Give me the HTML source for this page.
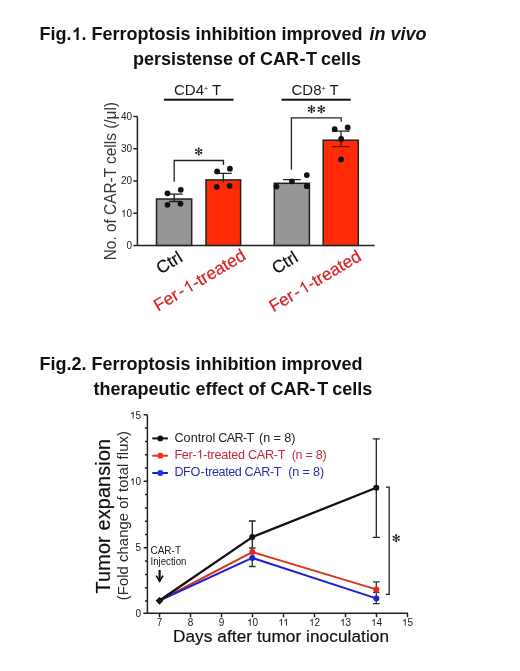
<!DOCTYPE html>
<html><head><meta charset="utf-8">
<style>
html,body{margin:0;padding:0;background:#fff;}
body{width:520px;height:671px;overflow:hidden;font-family:"Liberation Sans",sans-serif;}
svg{display:block;filter:blur(0.2px);}
text{font-family:"Liberation Sans",sans-serif;}
.h1{fill-opacity:0;stroke-opacity:0;}
.th text,text.th{stroke-width:0.2px;paint-order:stroke;stroke-linejoin:round;}
</style></head>
<body>
<svg width="520" height="671" viewBox="0 0 520 671">
<defs><path id="one_r" d="M763 0 L583 0 L583 -1097.9 Q518 -1038.6 412 -979.2 Q307 -919.9 223 -890.2 L223 -1056.8 Q374 -1124.7 487 -1221.4 Q600 -1318.1 647 -1409 L763 -1409Z"/><path id="one_b" d="M819 0 L567 0 L567 -1016.6 Q429 -892.5 242 -832.9 L242 -1077.2 Q340 -1108 455 -1193.6 Q570 -1279.2 613 -1409 L819 -1409Z"/><g id="ast"><path d="M0 -3.2 V3.2 M-2.77 -1.6 L2.77 1.6 M-2.77 1.6 L2.77 -1.6" stroke="#222" stroke-width="1.0" stroke-linecap="round"/><g fill="#222"><circle cx="0.00" cy="-3.00" r="1.05"/><circle cx="-0.00" cy="3.00" r="1.05"/><circle cx="2.60" cy="-1.50" r="1.05"/><circle cx="-2.60" cy="-1.50" r="1.05"/><circle cx="-2.60" cy="1.50" r="1.05"/><circle cx="2.60" cy="1.50" r="1.05"/></g></g></defs>
<rect x="0" y="0" width="520" height="671" fill="#fff"/>
<!-- Title 1 -->
<g font-weight="bold" font-size="18" fill="#111">
<text x="39.5" y="40">Fig.<tspan class="h1">1</tspan>. Ferroptosis inhibition improved <tspan font-style="italic" dx="2">in vivo</tspan></text>
<text x="133" y="65">persistense of CAR<tspan dx="0.4">-</tspan><tspan dx="0.6">T</tspan><tspan dx="-1"> cells</tspan></text>
</g>
<!-- Chart 1 -->
<g id="c1">
<!-- group labels -->
<g font-size="15" fill="#1a1a1a">
<text x="174" y="95">CD4<tspan font-size="7" dy="-4">+</tspan><tspan dy="4"> T</tspan></text>
<text x="291.5" y="95">CD8<tspan font-size="7" dy="-4">+</tspan><tspan dy="4"> T</tspan></text>
</g>
<rect x="163.8" y="98.7" width="69.7" height="2" fill="#111"/>
<rect x="281.5" y="98.7" width="69.2" height="2" fill="#111"/>
<!-- axes -->
<g stroke="#222" stroke-width="1.5" fill="none">
<path d="M137.4 116.4 V245.4 M133.4 116.4 H137.4 M133.4 148.65 H137.4 M133.4 180.9 H137.4 M133.4 213.15 H137.4 M133.4 245.4 H374.6"/>
</g>
<g font-size="10" fill="#1a1a1a" text-anchor="end">
<text x="132" y="120">40</text>
<text x="132" y="152.2">30</text>
<text x="132" y="184.4">20</text>
<text x="132" y="216.7"><tspan class="h1">1</tspan>0</text>
<text x="132" y="248.5">0</text>
</g>
<text transform="translate(115.7,260.3) rotate(-90)" font-size="16.2" fill="#383838" textLength="158.3" lengthAdjust="spacingAndGlyphs">No. of CAR-T cells (/μl)</text>
<!-- bars -->
<g stroke="#222" stroke-width="1.5">
<rect x="156.5" y="199" width="35.2" height="46.4" fill="#969696"/>
<rect x="206" y="179.9" width="34.6" height="65.5" fill="#ff2a06"/>
<rect x="274.3" y="183.3" width="35.1" height="62.1" fill="#969696"/>
<rect x="323.2" y="140.2" width="35.1" height="105.2" fill="#ff2a06"/>
</g>
<!-- error bars -->
<g stroke="#222" stroke-width="1.3" fill="none">
<path d="M174.2 194.2 V201.5 M165.7 194.2 H182.7 M169 201.5 H180"/>
<path d="M223.3 173.4 V182.5 M214.8 173.4 H231.8"/>
<path d="M291.9 179.6 V183.3 M283 179.6 H300.8"/>
<path d="M341 131.1 V140.2 M332.3 131.1 H349.7"/>
</g>
<path d="M341 140.2 V146.7 M332.3 146.7 H349.7" stroke="#6a1208" stroke-width="1.3" fill="none"/>
<!-- dots -->
<g fill="#111">
<circle cx="167.5" cy="193.3" r="2.9"/><circle cx="180.8" cy="189.8" r="2.9"/><circle cx="167.5" cy="204.8" r="2.9"/><circle cx="180.5" cy="203.7" r="2.9"/>
<circle cx="217.1" cy="171.4" r="2.9"/><circle cx="229.9" cy="168.7" r="2.9"/><circle cx="216.7" cy="186.8" r="2.9"/><circle cx="229.6" cy="185.8" r="2.9"/>
<circle cx="276.5" cy="186.6" r="2.9"/><circle cx="306.8" cy="186.2" r="2.9"/><circle cx="291.9" cy="181.3" r="2.9"/><circle cx="306.8" cy="175.1" r="2.9"/>
<circle cx="334.7" cy="129.2" r="2.9"/><circle cx="347.7" cy="127.5" r="2.9"/><circle cx="341.2" cy="139" r="2.9"/><circle cx="341" cy="159.4" r="2.9"/>
</g>
<!-- brackets -->
<g stroke="#222" stroke-width="1.3" fill="none">
<path d="M174.2 181.8 V160.5 H223.5 V164.9"/>
<path d="M291.4 169.8 V117.8 H341.2 V121.7"/>
</g>
<use href="#ast" x="198.7" y="151.5"/>
<use href="#ast" x="311.5" y="109.3"/>
<use href="#ast" x="321.3" y="109.3"/>
<!-- x labels -->
<g font-size="17.3" class="th">
<text transform="translate(160.8,274.6) rotate(-31.8)" fill="#111" stroke="#111">Ctrl</text>
<text transform="translate(157.9,311.7) rotate(-30.8)" fill="#d41f26" stroke="#d41f26">Fer<tspan dx="1.6">-</tspan><tspan dx="1.2"><tspan class="h1">1</tspan>-treated</tspan></text>
<text transform="translate(276.5,274.6) rotate(-31.8)" fill="#111" stroke="#111">Ctrl</text>
<text transform="translate(273.4,312.6) rotate(-30.8)" fill="#d41f26" stroke="#d41f26">Fer<tspan dx="1.6">-</tspan><tspan dx="1.2"><tspan class="h1">1</tspan>-treated</tspan></text>
</g>
</g>

<!-- Title 2 -->
<g font-weight="bold" font-size="18" fill="#111">
<text x="39.5" y="369.5">Fig.2. Ferroptosis inhibition improved</text>
<text x="93.5" y="394.5">therapeutic effect of CAR-<tspan dx="1.8">T</tspan><tspan dx="-1"> cells</tspan></text>
</g>

<!-- Chart 2 -->
<g id="c2">
<g stroke="#222" stroke-width="1.5" fill="none">
<path d="M147.4 414.8 V613.3 M143.4 613.3 H408"/>
<path d="M143.6 414.8 H147.4 M143.6 481.3 H147.4 M143.6 547.8 H147.4"/>
<path d="M145 428.1 H147.4 M145 441.4 H147.4 M145 454.7 H147.4 M145 468 H147.4 M145 494.6 H147.4 M145 507.9 H147.4 M145 521.2 H147.4 M145 534.5 H147.4 M145 561.1 H147.4 M145 574.4 H147.4 M145 587.7 H147.4 M145 601 H147.4"/>
<path d="M159.5 613.3 v4 M190.5 613.3 v4 M221.5 613.3 v4 M252.5 613.3 v4 M283.5 613.3 v4 M314.5 613.3 v4 M345.5 613.3 v4 M376.5 613.3 v4 M407.5 613.3 v4"/>
</g>
<g font-size="10" fill="#1a1a1a" text-anchor="end">
<text x="141" y="418.5"><tspan class="h1">1</tspan>5</text>
<text x="141" y="485"><tspan class="h1">1</tspan>0</text>
<text x="141" y="551.4">5</text>
<text x="141" y="617.3">0</text>
</g>
<g font-size="10" fill="#1a1a1a" text-anchor="middle">
<text x="159.5" y="625.7">7</text><text x="190.5" y="625.7">8</text><text x="221.5" y="625.7">9</text><text x="252.5" y="625.7"><tspan class="h1">1</tspan>0</text><text x="283.5" y="625.7"><tspan class="h1">1</tspan><tspan class="h1">1</tspan></text><text x="314.5" y="625.7"><tspan class="h1">1</tspan>2</text><text x="345.5" y="625.7"><tspan class="h1">1</tspan>3</text><text x="376.5" y="625.7"><tspan class="h1">1</tspan>4</text><text x="407.5" y="625.7"><tspan class="h1">1</tspan>5</text>
</g>
<text class="th" stroke="#111" x="173" y="642.3" font-size="17.2" fill="#111" textLength="216" lengthAdjust="spacing">Days after tumor inoculation</text>
<text transform="translate(109.7,593.4) rotate(-90)" font-size="19.8" fill="#111" stroke="#111" class="th" textLength="154.5" lengthAdjust="spacing">Tumor expansion</text>
<text transform="translate(128,600.2) rotate(-90)" font-size="14.7" fill="#2a2a2a" textLength="169" lengthAdjust="spacing">(Fold change of total flux)</text>
<!-- legend -->
<g stroke-width="2.0">
<path d="M152.3 438.4 H167.9" stroke="#111"/>
<path d="M152.3 455.7 H167.9" stroke="#d23a20"/>
<path d="M152.3 473 H167.9" stroke="#1a1ad0"/>
</g>
<circle cx="160.3" cy="438.4" r="2.9" fill="#111"/>
<circle cx="160.3" cy="455.7" r="2.9" fill="#ff2a10"/>
<circle cx="160.3" cy="473" r="2.9" fill="#1f30f0"/>
<g font-size="12.6">
<text x="174.4" y="441.8" fill="#222" textLength="41" lengthAdjust="spacing">Control</text>
<text x="218.2" y="441.8" fill="#222" textLength="36" lengthAdjust="spacing">CAR-T</text>
<text x="259" y="441.8" fill="#222" textLength="36.5" lengthAdjust="spacing">(n = 8)</text>
<text x="174.4" y="458.5" fill="#c02c3c" textLength="111" lengthAdjust="spacing">Fer-<tspan class="h1">1</tspan>-treated CAR-T</text>
<text x="291.7" y="458.5" fill="#c02c3c" textLength="35" lengthAdjust="spacing">(n = 8)</text>
<text x="174.4" y="476" fill="#2e2ea8" textLength="107" lengthAdjust="spacing">DFO<tspan dx="0.8">-</tspan><tspan dx="0.7">treated CAR-T</tspan></text>
<text x="288.2" y="476" fill="#2e2ea8" textLength="36" lengthAdjust="spacing">(n = 8)</text>
</g>
<!-- error bars -->
<g stroke="#222" stroke-width="1.3" fill="none">
<path d="M252.3 521 V553 M249 521 H255.6"/>
<path d="M376.3 438.9 V537.4 M372.8 438.9 H379.8 M372.8 537.4 H379.8"/>
</g>
<g stroke="#333" stroke-width="1.3" fill="none">
<path d="M252.3 548 V566.5 M249 548 H255.6 M249 566.5 H255.6"/>
<path d="M376.3 581.8 V603.6 M373 581.8 H379.6 M373 592.4 H379.6 M373 603.6 H379.6"/>
</g>
<!-- lines -->
<g fill="none" stroke-width="2.0" stroke-linejoin="round">
<polyline points="159.5,600.5 252.3,552.1 376.3,589.4" stroke="#dc3418"/>
<polyline points="159.5,600.5 252.3,557.9 376.3,598.4" stroke="#1c24d0"/>
<polyline points="159.5,600.5 252.3,537.1 376.3,487.7" stroke="#111" stroke-width="2.3"/>
</g>
<circle cx="252.3" cy="557.9" r="3" fill="#1c24d0"/>
<circle cx="376.3" cy="598.4" r="3" fill="#1c24d0"/>
<circle cx="252.3" cy="552.1" r="3" fill="#e8281a"/>
<circle cx="376.3" cy="589.4" r="3" fill="#e8281a"/>
<circle cx="252.3" cy="537.1" r="3" fill="#111"/>
<circle cx="376.3" cy="487.7" r="3" fill="#111"/>
<path d="M159.5 597.6 L162.6 600.7 L159.5 603.8 L156.4 600.7 Z" fill="#111" stroke="#111" stroke-width="1.2" stroke-linejoin="round"/>
<!-- bracket -->
<path d="M385.9 487.2 H389.2 V594.3 H385.9" stroke="#222" stroke-width="1.3" fill="none"/>
<use href="#ast" x="396.2" y="538.2"/>
<!-- injection -->
<g font-size="10.1" fill="#1a1a1a">
<text x="150.5" y="553.8" textLength="30.5" lengthAdjust="spacingAndGlyphs">CAR-T</text>
<text x="150.5" y="565.4" textLength="36" lengthAdjust="spacingAndGlyphs">Injection</text>
</g>
<path d="M159.6 570 V581.5" stroke="#111" stroke-width="2.2"/>
<path d="M156.2 575.6 L159.6 581.2 L163 575.6" stroke="#111" stroke-width="1.7" fill="none"/>
</g>




<g id="ones"><use href="#one_b" fill="rgb(17, 17, 17)" transform="matrix(0.008789 0.000000 0.000000 0.008789 71.500000 40.000000)"/><use href="#one_r" fill="rgb(26, 26, 26)" transform="matrix(0.004883 0.000000 0.000000 0.004883 120.875000 216.699997)"/><use href="#one_r" fill="rgb(212, 31, 38)" stroke="rgb(212, 31, 38)" stroke-width="0.2" vector-effect="non-scaling-stroke" transform="matrix(0.007256 -0.004325 0.004325 0.007256 187.523373 294.040935)"/><use href="#one_r" fill="rgb(212, 31, 38)" stroke="rgb(212, 31, 38)" stroke-width="0.2" vector-effect="non-scaling-stroke" transform="matrix(0.007256 -0.004325 0.004325 0.007256 303.023373 294.940929)"/><use href="#one_r" fill="rgb(26, 26, 26)" transform="matrix(0.004883 0.000000 0.000000 0.004883 129.875000 418.500000)"/><use href="#one_r" fill="rgb(26, 26, 26)" transform="matrix(0.004883 0.000000 0.000000 0.004883 129.875000 485.000000)"/><use href="#one_r" fill="rgb(26, 26, 26)" transform="matrix(0.004883 0.000000 0.000000 0.004883 246.937500 625.700012)"/><use href="#one_r" fill="rgb(26, 26, 26)" transform="matrix(0.004883 0.000000 0.000000 0.004883 278.304688 625.700012)"/><use href="#one_r" fill="rgb(26, 26, 26)" transform="matrix(0.004883 0.000000 0.000000 0.004883 283.132812 625.700012)"/><use href="#one_r" fill="rgb(26, 26, 26)" transform="matrix(0.004883 0.000000 0.000000 0.004883 308.937500 625.700012)"/><use href="#one_r" fill="rgb(26, 26, 26)" transform="matrix(0.004883 0.000000 0.000000 0.004883 339.937500 625.700012)"/><use href="#one_r" fill="rgb(26, 26, 26)" transform="matrix(0.004883 0.000000 0.000000 0.004883 370.937500 625.700012)"/><use href="#one_r" fill="rgb(26, 26, 26)" transform="matrix(0.004883 0.000000 0.000000 0.004883 401.937500 625.700012)"/><use href="#one_r" fill="rgb(192, 44, 60)" transform="matrix(0.006152 0.000000 0.000000 0.006152 196.493744 458.500000)"/></g><!--/ones-->
</svg>
</body></html>
